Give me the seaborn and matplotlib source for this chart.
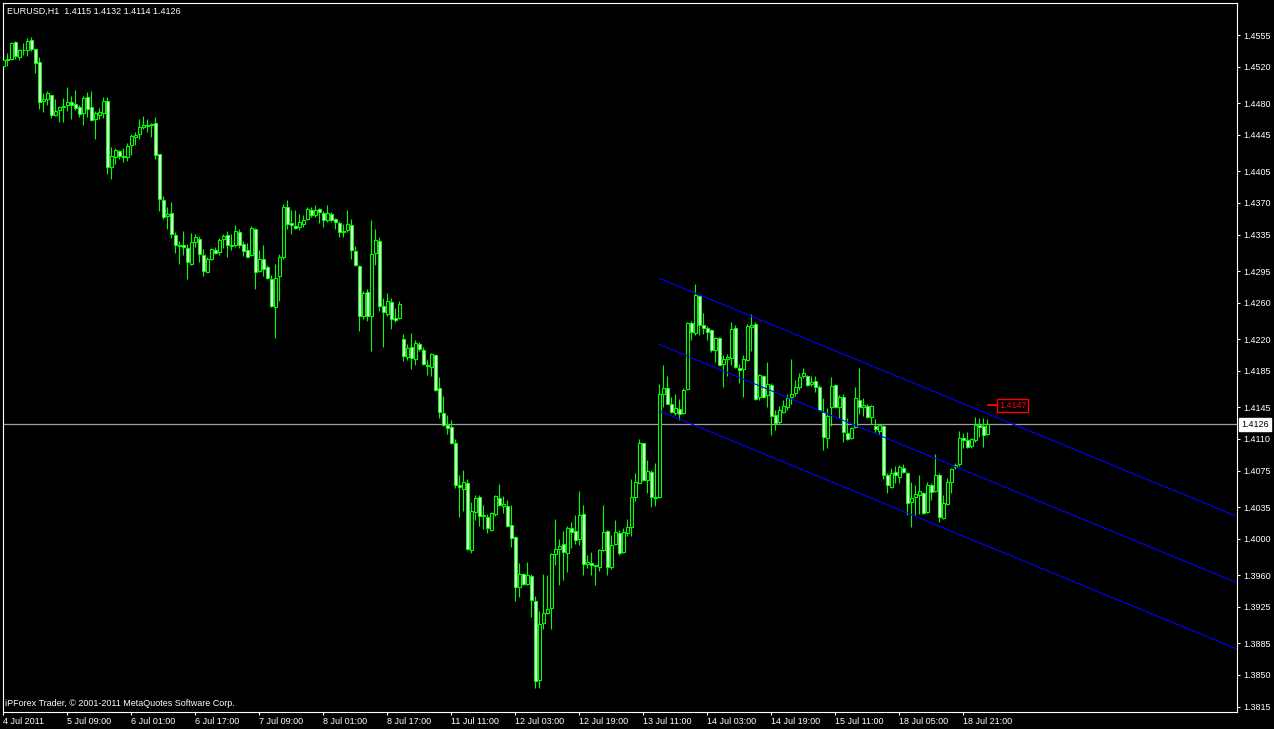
import numpy as np
import pandas as pd
import matplotlib
matplotlib.use("Agg")
import matplotlib.pyplot as plt
import matplotlib.transforms as mtransforms
import seaborn as sns

# EURUSD H1 bars (oldest first)
opens = [
    1.4521, 1.4527, 1.4529, 1.4547, 1.4531, 1.4538, 1.4539, 1.4550, 1.4540, 1.4525,
    1.4482, 1.4485, 1.4489, 1.4467, 1.4472, 1.4476, 1.4478, 1.4481, 1.4479, 1.4476,
    1.4469, 1.4487, 1.4476, 1.4463, 1.4467, 1.4469, 1.4482, 1.4410, 1.4421, 1.4427,
    1.4422, 1.4421, 1.4434, 1.4443, 1.4446, 1.4454, 1.4455, 1.4456, 1.4458, 1.4424,
    1.4373, 1.4356, 1.4359, 1.4335, 1.4324, 1.4324, 1.4320, 1.4303, 1.4327, 1.4330,
    1.4313, 1.4294, 1.4308, 1.4318, 1.4316, 1.4330, 1.4335, 1.4323, 1.4324, 1.4338,
    1.4325, 1.4318, 1.4313, 1.4341, 1.4295, 1.4308, 1.4299, 1.4286, 1.4255, 1.4289,
    1.4310, 1.4365, 1.4348, 1.4345, 1.4344, 1.4347, 1.4352, 1.4362, 1.4357, 1.4363,
    1.4359, 1.4351, 1.4358, 1.4352, 1.4348, 1.4338, 1.4340, 1.4346, 1.4317, 1.4301,
    1.4245, 1.4272, 1.4246, 1.4315, 1.4328, 1.4257, 1.4248, 1.4261, 1.4243, 1.4243,
    1.4220, 1.4200, 1.4211, 1.4198, 1.4215, 1.4208, 1.4192, 1.4189, 1.4202, 1.4166,
    1.4139, 1.4125, 1.4123, 1.4105, 1.4059, 1.4055, 1.4062, 1.3988, 1.4030, 1.4046,
    1.4025, 1.4024, 1.4010, 1.4027, 1.4045, 1.4036, 1.4036, 1.4015, 1.4002, 1.3947,
    1.3961, 1.3950, 1.3959, 1.3932, 1.3844, 1.3907, 1.3918, 1.3924, 1.3983, 1.3989,
    1.3994, 1.3984, 1.4012, 1.4009, 1.4000, 1.4027, 1.3972, 1.3973, 1.3971, 1.3969,
    1.3988, 1.4009, 1.3969, 1.3994, 1.4006, 1.3985, 1.4006, 1.4013, 1.4046, 1.4062,
    1.4105, 1.4065, 1.4074, 1.4046, 1.4046, 1.4159, 1.4166, 1.4148, 1.4139, 1.4143,
    1.4139, 1.4165, 1.4238, 1.4227, 1.4268, 1.4236, 1.4232, 1.4230, 1.4208, 1.4221,
    1.4193, 1.4198, 1.4199, 1.4232, 1.4188, 1.4187, 1.4197, 1.4233, 1.4237, 1.4156,
    1.4179, 1.4158, 1.4169, 1.4136, 1.4129, 1.4140, 1.4145, 1.4156, 1.4161, 1.4167,
    1.4179, 1.4179, 1.4171, 1.4174, 1.4167, 1.4140, 1.4111, 1.4145, 1.4169, 1.4145,
    1.4156, 1.4117, 1.4111, 1.4123, 1.4153, 1.4145, 1.4146, 1.4134, 1.4124, 1.4119,
    1.4124, 1.4070, 1.4057, 1.4074, 1.4068, 1.4078, 1.4073, 1.4040, 1.4046, 1.4048,
    1.4051, 1.4029, 1.4059, 1.4053, 1.4070, 1.4023, 1.4038, 1.4063, 1.4079, 1.4082,
    1.4111, 1.4109, 1.4102, 1.4109, 1.4125, 1.4124, 1.4115,
]
highs = [
    1.4536, 1.4535, 1.4547, 1.4548, 1.4540, 1.4546, 1.4552, 1.4553, 1.4540, 1.4531,
    1.4491, 1.4493, 1.4489, 1.4484, 1.4477, 1.4486, 1.4498, 1.4488, 1.4494, 1.4478,
    1.4488, 1.4492, 1.4493, 1.4471, 1.4475, 1.4487, 1.4487, 1.4432, 1.4430, 1.4428,
    1.4430, 1.4436, 1.4446, 1.4448, 1.4463, 1.4466, 1.4463, 1.4458, 1.4465, 1.4424,
    1.4378, 1.4365, 1.4371, 1.4338, 1.4328, 1.4339, 1.4325, 1.4337, 1.4336, 1.4334,
    1.4319, 1.4311, 1.4320, 1.4322, 1.4331, 1.4336, 1.4339, 1.4336, 1.4346, 1.4341,
    1.4328, 1.4326, 1.4345, 1.4342, 1.4318, 1.4324, 1.4302, 1.4291, 1.4303, 1.4314,
    1.4369, 1.4373, 1.4362, 1.4362, 1.4358, 1.4357, 1.4365, 1.4365, 1.4368, 1.4364,
    1.4361, 1.4368, 1.4360, 1.4353, 1.4350, 1.4347, 1.4362, 1.4352, 1.4323, 1.4302,
    1.4273, 1.4275, 1.4351, 1.4341, 1.4332, 1.4265, 1.4271, 1.4265, 1.4254, 1.4262,
    1.4226, 1.4215, 1.4227, 1.4219, 1.4217, 1.4211, 1.4197, 1.4205, 1.4204, 1.4178,
    1.4157, 1.4136, 1.4131, 1.4110, 1.4070, 1.4076, 1.4066, 1.4040, 1.4048, 1.4048,
    1.4037, 1.4027, 1.4030, 1.4048, 1.4060, 1.4047, 1.4043, 1.4037, 1.4003, 1.3973,
    1.3962, 1.3974, 1.3961, 1.3937, 1.3920, 1.3961, 1.3960, 1.3984, 1.4022, 1.4000,
    1.4009, 1.4014, 1.4018, 1.4026, 1.4053, 1.4037, 1.3982, 1.3985, 1.3971, 1.3989,
    1.4037, 1.4010, 1.4004, 1.4021, 1.4010, 1.4012, 1.4022, 1.4066, 1.4073, 1.4110,
    1.4106, 1.4087, 1.4076, 1.4083, 1.4171, 1.4191, 1.4179, 1.4156, 1.4159, 1.4154,
    1.4166, 1.4239, 1.4240, 1.4281, 1.4269, 1.4249, 1.4234, 1.4231, 1.4222, 1.4222,
    1.4203, 1.4204, 1.4239, 1.4236, 1.4193, 1.4203, 1.4237, 1.4248, 1.4239, 1.4182,
    1.4181, 1.4195, 1.4172, 1.4142, 1.4146, 1.4153, 1.4160, 1.4198, 1.4175, 1.4183,
    1.4188, 1.4180, 1.4179, 1.4179, 1.4169, 1.4155, 1.4144, 1.4178, 1.4170, 1.4158,
    1.4160, 1.4133, 1.4123, 1.4167, 1.4188, 1.4155, 1.4149, 1.4147, 1.4132, 1.4127,
    1.4125, 1.4072, 1.4078, 1.4080, 1.4081, 1.4082, 1.4074, 1.4063, 1.4059, 1.4070,
    1.4052, 1.4063, 1.4061, 1.4093, 1.4072, 1.4048, 1.4067, 1.4078, 1.4083, 1.4119,
    1.4117, 1.4118, 1.4111, 1.4134, 1.4133, 1.4133, 1.4132,
]
lows = [
    1.4518, 1.4521, 1.4527, 1.4529, 1.4527, 1.4533, 1.4532, 1.4537, 1.4513, 1.4473,
    1.4470, 1.4478, 1.4464, 1.4466, 1.4459, 1.4459, 1.4471, 1.4462, 1.4472, 1.4465,
    1.4456, 1.4465, 1.4460, 1.4441, 1.4463, 1.4464, 1.4402, 1.4396, 1.4413, 1.4418,
    1.4415, 1.4416, 1.4423, 1.4434, 1.4441, 1.4451, 1.4448, 1.4443, 1.4418, 1.4361,
    1.4352, 1.4341, 1.4331, 1.4315, 1.4303, 1.4313, 1.4286, 1.4302, 1.4322, 1.4305,
    1.4289, 1.4294, 1.4307, 1.4314, 1.4313, 1.4320, 1.4310, 1.4318, 1.4322, 1.4320,
    1.4312, 1.4310, 1.4312, 1.4275, 1.4294, 1.4289, 1.4286, 1.4255, 1.4221, 1.4262,
    1.4308, 1.4341, 1.4336, 1.4341, 1.4340, 1.4343, 1.4351, 1.4355, 1.4355, 1.4348,
    1.4343, 1.4349, 1.4349, 1.4341, 1.4332, 1.4333, 1.4338, 1.4308, 1.4301, 1.4229,
    1.4242, 1.4240, 1.4207, 1.4302, 1.4251, 1.4211, 1.4246, 1.4231, 1.4239, 1.4242,
    1.4196, 1.4197, 1.4187, 1.4191, 1.4207, 1.4191, 1.4180, 1.4179, 1.4163, 1.4133,
    1.4124, 1.4115, 1.4104, 1.4056, 1.4024, 1.4031, 1.3988, 1.3984, 1.4021, 1.4014,
    1.4011, 1.4006, 1.4009, 1.4025, 1.4036, 1.4028, 1.4013, 1.3991, 1.3931, 1.3936,
    1.3949, 1.3949, 1.3914, 1.3836, 1.3836, 1.3901, 1.3917, 1.3901, 1.3971, 1.3949,
    1.3955, 1.3963, 1.3990, 1.3994, 1.3993, 1.3960, 1.3968, 1.3960, 1.3949, 1.3964,
    1.3987, 1.3960, 1.3967, 1.3993, 1.3982, 1.3984, 1.4003, 1.4003, 1.4042, 1.4061,
    1.4064, 1.4051, 1.4035, 1.4036, 1.4045, 1.4145, 1.4148, 1.4139, 1.4136, 1.4131,
    1.4138, 1.4164, 1.4219, 1.4225, 1.4225, 1.4226, 1.4219, 1.4206, 1.4195, 1.4191,
    1.4167, 1.4179, 1.4191, 1.4188, 1.4172, 1.4156, 1.4196, 1.4207, 1.4153, 1.4153,
    1.4155, 1.4145, 1.4114, 1.4120, 1.4127, 1.4139, 1.4142, 1.4149, 1.4157, 1.4164,
    1.4177, 1.4168, 1.4168, 1.4162, 1.4141, 1.4098, 1.4100, 1.4124, 1.4144, 1.4133,
    1.4107, 1.4109, 1.4110, 1.4122, 1.4138, 1.4135, 1.4133, 1.4127, 1.4118, 1.4115,
    1.4066, 1.4050, 1.4056, 1.4061, 1.4061, 1.4072, 1.4026, 1.4013, 1.4026, 1.4027,
    1.4027, 1.4028, 1.4043, 1.4052, 1.4018, 1.4022, 1.4037, 1.4050, 1.4077, 1.4080,
    1.4100, 1.4100, 1.4100, 1.4107, 1.4112, 1.4101, 1.4114,
]
closes = [
    1.4528, 1.4529, 1.4546, 1.4532, 1.4538, 1.4539, 1.4548, 1.4540, 1.4524, 1.4481,
    1.4485, 1.4491, 1.4467, 1.4471, 1.4476, 1.4477, 1.4481, 1.4478, 1.4475, 1.4468,
    1.4486, 1.4474, 1.4461, 1.4469, 1.4470, 1.4482, 1.4410, 1.4422, 1.4428, 1.4422,
    1.4421, 1.4433, 1.4444, 1.4445, 1.4454, 1.4456, 1.4456, 1.4457, 1.4423, 1.4374,
    1.4355, 1.4358, 1.4336, 1.4324, 1.4323, 1.4321, 1.4305, 1.4327, 1.4332, 1.4314,
    1.4295, 1.4308, 1.4319, 1.4315, 1.4329, 1.4334, 1.4324, 1.4324, 1.4339, 1.4324,
    1.4317, 1.4311, 1.4342, 1.4294, 1.4308, 1.4297, 1.4287, 1.4256, 1.4287, 1.4310,
    1.4366, 1.4347, 1.4346, 1.4342, 1.4349, 1.4351, 1.4363, 1.4357, 1.4362, 1.4360,
    1.4351, 1.4359, 1.4351, 1.4349, 1.4338, 1.4339, 1.4347, 1.4318, 1.4302, 1.4245,
    1.4271, 1.4245, 1.4314, 1.4329, 1.4256, 1.4250, 1.4262, 1.4242, 1.4241, 1.4259,
    1.4201, 1.4210, 1.4199, 1.4216, 1.4209, 1.4193, 1.4190, 1.4204, 1.4164, 1.4140,
    1.4125, 1.4122, 1.4106, 1.4059, 1.4057, 1.4063, 1.3989, 1.4031, 1.4045, 1.4025,
    1.4026, 1.4012, 1.4028, 1.4047, 1.4037, 1.4038, 1.4014, 1.4001, 1.3947, 1.3961,
    1.3950, 1.3960, 1.3933, 1.3843, 1.3906, 1.3918, 1.3923, 1.3983, 1.3989, 1.3992,
    1.3985, 1.4012, 1.4007, 1.3999, 1.4026, 1.3972, 1.3974, 1.3971, 1.3970, 1.3988,
    1.4008, 1.3969, 1.3993, 1.4007, 1.3984, 1.4007, 1.4013, 1.4046, 1.4063, 1.4106,
    1.4065, 1.4075, 1.4046, 1.4045, 1.4159, 1.4166, 1.4149, 1.4140, 1.4144, 1.4138,
    1.4164, 1.4238, 1.4228, 1.4269, 1.4236, 1.4232, 1.4228, 1.4208, 1.4221, 1.4192,
    1.4198, 1.4200, 1.4231, 1.4189, 1.4186, 1.4198, 1.4234, 1.4236, 1.4154, 1.4180,
    1.4156, 1.4171, 1.4135, 1.4128, 1.4142, 1.4146, 1.4155, 1.4160, 1.4167, 1.4178,
    1.4183, 1.4169, 1.4173, 1.4167, 1.4142, 1.4112, 1.4135, 1.4168, 1.4145, 1.4156,
    1.4118, 1.4110, 1.4122, 1.4155, 1.4145, 1.4147, 1.4134, 1.4146, 1.4121, 1.4125,
    1.4070, 1.4059, 1.4073, 1.4070, 1.4079, 1.4074, 1.4039, 1.4045, 1.4049, 1.4053,
    1.4028, 1.4059, 1.4052, 1.4070, 1.4024, 1.4039, 1.4063, 1.4077, 1.4081, 1.4111,
    1.4109, 1.4101, 1.4110, 1.4125, 1.4123, 1.4114, 1.4126,
]

time_labels = [
    "4 Jul 2011", "5 Jul 09:00", "6 Jul 01:00", "6 Jul 17:00", "7 Jul 09:00",
    "8 Jul 01:00", "8 Jul 17:00", "11 Jul 11:00", "12 Jul 03:00", "12 Jul 19:00",
    "13 Jul 11:00", "14 Jul 03:00", "14 Jul 19:00", "15 Jul 11:00", "18 Jul 05:00",
    "18 Jul 21:00",
]
LABEL_STEP = 16  # bars between time labels

price_ticks = [1.4555, 1.4520, 1.4480, 1.4445, 1.4405, 1.4370, 1.4335, 1.4295,
               1.4260, 1.4220, 1.4185, 1.4145, 1.4110, 1.4075, 1.4035, 1.4000,
               1.3960, 1.3925, 1.3885, 1.3850, 1.3815]

BID = 1.4126
ALERT_PRICE = 1.4147

# equidistant channel anchors (bar index, price), drawn as rays
channel_bars = [164, 246]
channel_upper = [1.4287, 1.4138]
channel_mid = [1.4214, 1.4065]
channel_lower = [1.4141, 1.3992]

LIME = "#00ff00"
XMIN, XMAX = -0.1, 308.35
YMIN, YMAX = 1.38095, 1.45903

sns.set_theme(style="dark", rc={
    "axes.facecolor": "black",
    "figure.facecolor": "black",
    "axes.edgecolor": "white",
    "axes.linewidth": 0.8,
    "xtick.color": "white",
    "ytick.color": "white",
    "text.color": "white",
})
plt.rcParams["font.family"] = ["Liberation Sans", "DejaVu Sans"]

df = pd.DataFrame({"open": opens, "high": highs, "low": lows, "close": closes})
df["bar"] = np.arange(len(df))
bear = df["close"] < df["open"]

fig = plt.figure(figsize=(12.74, 7.29), dpi=100)
ax = fig.add_axes([3 / 1274, 17.3 / 729, 1233.7 / 1274, 708.7 / 729])

# bid line
ax.axhline(BID, color="#a0a0a0", linewidth=0.9, zorder=1)

# wicks and bodies
ax.vlines(df["bar"], df["low"], df["high"], color=LIME, linewidth=0.8, zorder=2)
body_h = (df["close"] - df["open"]).abs().clip(lower=0.000005)
ax.bar(df["bar"], body_h, bottom=df[["open", "close"]].min(axis=1), width=0.62,
       color=np.where(bear, "white", "black"), edgecolor=LIME, linewidth=0.8,
       zorder=3)

# channel rays
for line in (channel_upper, channel_mid, channel_lower):
    slope = (line[1] - line[0]) / (channel_bars[1] - channel_bars[0])
    xs = [channel_bars[0], XMAX]
    ys = [line[0], line[0] + slope * (XMAX - channel_bars[0])]
    sns.lineplot(x=xs, y=ys, color="#0000ff", linewidth=0.8, ax=ax, zorder=4)

# price alert label
last = len(df) - 1
ax.plot([last + 0.25, last + 2.6], [ALERT_PRICE, ALERT_PRICE], color="#ff0000",
        linewidth=1.4, zorder=5)
ax.text(last + 2.9, ALERT_PRICE, f"{ALERT_PRICE:.4f}", color="#ff0000",
        fontsize=6.5, va="center", ha="left", zorder=6,
        bbox=dict(boxstyle="square,pad=0.2", fc="black", ec="#ff0000", lw=1))

ax.set_xlim(XMIN, XMAX)
ax.set_ylim(YMIN, YMAX)

ax.set_xticks(np.arange(len(time_labels)) * LABEL_STEP)
ax.set_xticklabels(time_labels, ha="left", fontsize=6.5)
ax.yaxis.tick_right()
ax.set_yticks(price_ticks)
ax.set_yticklabels([f"{p:.4f}" for p in price_ticks], fontsize=6.5)
ax.tick_params(axis="x", direction="out", length=2.5, width=0.8, pad=1.5,
               bottom=True)
ax.tick_params(axis="y", direction="out", length=2.5, width=0.8, pad=2,
               right=True, left=False)
ax.set_xlabel("")
ax.set_ylabel("")
ax.grid(False)
for s in ax.spines.values():
    s.set_color("white")
    s.set_linewidth(0.8)

# current bid box on the price scale
trans = mtransforms.blended_transform_factory(ax.transAxes, ax.transData)
ax.text(1.0035, BID, f"{BID:.4f}", transform=trans, color="black", fontsize=6.5,
        va="center", ha="left", clip_on=False, zorder=7,
        bbox=dict(boxstyle="square,pad=0.25", fc="white", ec="white"))

fig.text(7 / 1274, 1 - 11 / 729,
         f"EURUSD,H1  {opens[-1]:.4f} {highs[-1]:.4f} {lows[-1]:.4f} {closes[-1]:.4f}",
         color="white", fontsize=6.5, va="center", ha="left")
fig.text(5 / 1274, 1 - 703 / 729,
         "iPForex Trader, \u00a9 2001-2011 MetaQuotes Software Corp.",
         color="white", fontsize=6.5, va="center", ha="left")

fig.savefig("out.png", dpi=100, facecolor="black")
